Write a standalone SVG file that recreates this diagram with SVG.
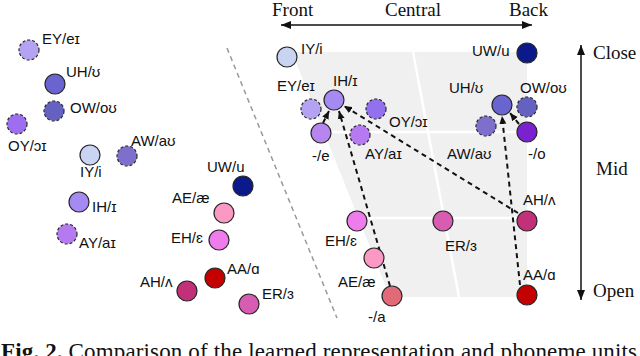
<svg xmlns="http://www.w3.org/2000/svg" width="640" height="356" viewBox="0 0 640 356">
<style>
.n{stroke:#262626;stroke-width:1.2}
.d{stroke:#262626;stroke-width:1.2;stroke-dasharray:3,2}
.t{font-family:"Liberation Sans","DejaVu Sans",sans-serif;font-size:15px;fill:#111}
.ax{font-family:"Liberation Serif","DejaVu Serif",serif;font-size:19px;fill:#111}
.arr{fill:none;stroke:#111;stroke-width:2;stroke-dasharray:5,4}
.axis{fill:none;stroke:#111;stroke-width:1.5}
.grid{stroke:#fff;stroke-width:2.5;fill:none}
</style>
<defs>
<marker id="ah" markerUnits="userSpaceOnUse" markerWidth="9" markerHeight="8" refX="8" refY="4" orient="auto">
<path d="M0,0.5 L8,4 L0,7.5 z" fill="#111"/>
</marker>
<marker id="axh" markerUnits="userSpaceOnUse" markerWidth="11" markerHeight="9" refX="10" refY="4.5" orient="auto-start-reverse">
<path d="M0,0.5 L10,4.5 L0,8.5 z" fill="#111"/>
</marker>
</defs>

<!-- background chart -->
<g id="chart">
<polygon points="292,52 527,52 527,297 390,297" fill="#f0f0f0"/>
<line class="grid" x1="324" y1="132" x2="527" y2="132"/>
<line class="grid" x1="358" y1="218" x2="527" y2="218"/>
<line class="grid" x1="413" y1="52" x2="459" y2="297"/>
</g>

<line x1="227" y1="48" x2="337" y2="318" stroke="#999" stroke-width="1.5" stroke-dasharray="5,4"/>

<!-- axes -->
<g id="axes">
<line class="axis" x1="281" y1="25" x2="532" y2="25" marker-start="url(#axh)" marker-end="url(#axh)"/>
<line class="axis" x1="581" y1="45" x2="581" y2="300" marker-start="url(#axh)" marker-end="url(#axh)"/>
<text class="ax" x="272" y="16">Front</text>
<text class="ax" x="385" y="16">Central</text>
<text class="ax" x="509" y="16">Back</text>
<text class="ax" x="593" y="59">Close</text>
<text class="ax" x="596" y="175">Mid</text>
<text class="ax" x="593" y="297">Open</text>
</g>

<!-- left cluster -->
<g id="L-EY"><circle class="d" cx="29" cy="50" r="10" fill="#b3a3f2"/><text class="t" x="42" y="44">EY/eɪ</text></g>
<g id="L-UH"><circle class="n" cx="55" cy="84" r="10" fill="#6a64d0"/><text class="t" x="66" y="77">UH/ʊ</text></g>
<g id="L-OW"><circle class="d" cx="54" cy="111" r="10" fill="#6461c0"/><text class="t" x="70" y="113">OW/oʊ</text></g>
<g id="L-OY"><circle class="d" cx="17" cy="124" r="10" fill="#9d6ff0"/><text class="t" x="8" y="151">OY/ɔɪ</text></g>
<g id="L-AW"><circle class="d" cx="127" cy="156" r="10" fill="#7e6fcc"/><text class="t" x="131" y="146">AW/aʊ</text></g>
<g id="L-IY"><circle class="n" cx="90" cy="155" r="10" fill="#c9d3f2"/><text class="t" x="80" y="177">IY/i</text></g>
<g id="L-IH"><circle class="n" cx="79" cy="202" r="10" fill="#a58af4"/><text class="t" x="92" y="212">IH/ɪ</text></g>
<g id="L-AY"><circle class="d" cx="67" cy="234" r="10" fill="#b57aef"/><text class="t" x="79" y="248">AY/aɪ</text></g>
<g id="L-UW"><circle class="n" cx="243" cy="186" r="10" fill="#0b1a8a"/><text class="t" x="207" y="172">UW/u</text></g>
<g id="L-AE"><circle class="n" cx="224" cy="213" r="10" fill="#fb98c4"/><text class="t" x="172" y="203">AE/æ</text></g>
<g id="L-EH"><circle class="n" cx="219" cy="240" r="10" fill="#ee7cec"/><text class="t" x="171" y="243">EH/ɛ</text></g>
<g id="L-AA"><circle class="n" cx="215" cy="278" r="10" fill="#c40000"/><text class="t" x="227" y="274">AA/ɑ</text></g>
<g id="L-AH"><circle class="n" cx="187" cy="291" r="10" fill="#c2307a"/><text class="t" x="140" y="287">AH/ʌ</text></g>
<g id="L-ER"><circle class="n" cx="249" cy="304" r="10" fill="#d85cb2"/><text class="t" x="262" y="299">ER/ɜ</text></g>

<!-- connectors -->
<g id="connectors">
<line class="arr" x1="323" y1="123" x2="329" y2="111" marker-end="url(#ah)"/>
<line class="arr" x1="390" y1="286" x2="339" y2="111" marker-end="url(#ah)"/>
<line class="arr" x1="518" y1="213" x2="344" y2="106" marker-end="url(#ah)"/>
<line class="arr" x1="520" y1="285" x2="502" y2="116" marker-end="url(#ah)"/>
<line class="arr" x1="519" y1="124" x2="510" y2="113" marker-end="url(#ah)"/>
</g>

<!-- right chart nodes -->
<g id="R-IY"><circle class="n" cx="287" cy="57" r="10" fill="#c9d3f2"/><text class="t" x="301" y="54">IY/i</text></g>
<g id="R-EY"><circle class="d" cx="311" cy="109" r="10" fill="#b3a3f2"/><text class="t" x="277" y="91">EY/eɪ</text></g>
<g id="R-IH"><circle class="n" cx="334" cy="100" r="10" fill="#a58af4"/><text class="t" x="333" y="86">IH/ɪ</text></g>
<g id="R-OY"><circle class="d" cx="376" cy="109" r="10" fill="#9370ee"/><text class="t" x="389" y="127">OY/ɔɪ</text></g>
<g id="R-e"><circle class="n" cx="321" cy="133" r="10" fill="#b686ee"/><text class="t" x="312" y="161">-/e</text></g>
<g id="R-AY"><circle class="d" cx="360" cy="135" r="10" fill="#b57aef"/><text class="t" x="365" y="159">AY/aɪ</text></g>
<g id="R-UW"><circle class="n" cx="527" cy="53" r="10" fill="#0b1a8a"/><text class="t" x="472" y="56">UW/u</text></g>
<g id="R-UH"><circle class="n" cx="502" cy="105" r="10" fill="#6a64d0"/><text class="t" x="449" y="93">UH/ʊ</text></g>
<g id="R-OW"><circle class="d" cx="527" cy="107" r="10" fill="#6461c0"/><text class="t" x="520" y="93">OW/oʊ</text></g>
<g id="R-AW"><circle class="d" cx="486" cy="126" r="10" fill="#7e6fcc"/><text class="t" x="447" y="159">AW/aʊ</text></g>
<g id="R-o"><circle class="n" cx="527" cy="132" r="10" fill="#7b22d0"/><text class="t" x="528" y="159">-/o</text></g>
<g id="R-EH"><circle class="n" cx="357" cy="221" r="10" fill="#ee7cec"/><text class="t" x="325" y="246">EH/ɛ</text></g>
<g id="R-AE"><circle class="n" cx="374" cy="258" r="10" fill="#fb98c4"/><text class="t" x="338" y="287">AE/æ</text></g>
<g id="R-a"><circle class="n" cx="392" cy="296" r="10" fill="#e06a78"/><text class="t" x="368" y="322">-/a</text></g>
<g id="R-ER"><circle class="n" cx="443" cy="221" r="10" fill="#d85cb2"/><text class="t" x="445" y="251">ER/ɜ</text></g>
<g id="R-AH"><circle class="n" cx="527" cy="221" r="10" fill="#c2307a"/><text class="t" x="523" y="205">AH/ʌ</text></g>
<g id="R-AA"><circle class="n" cx="527" cy="295" r="10" fill="#c40000"/><text class="t" x="523" y="280">AA/ɑ</text></g>

<!-- caption (cut off at bottom) -->
<text x="1" y="359" font-family="'Liberation Serif','DejaVu Serif',serif" font-size="23" fill="#111" textLength="636" lengthAdjust="spacing"><tspan font-weight="bold">Fig. 2.</tspan> Comparison of the learned representation and phoneme units</text>
</svg>
